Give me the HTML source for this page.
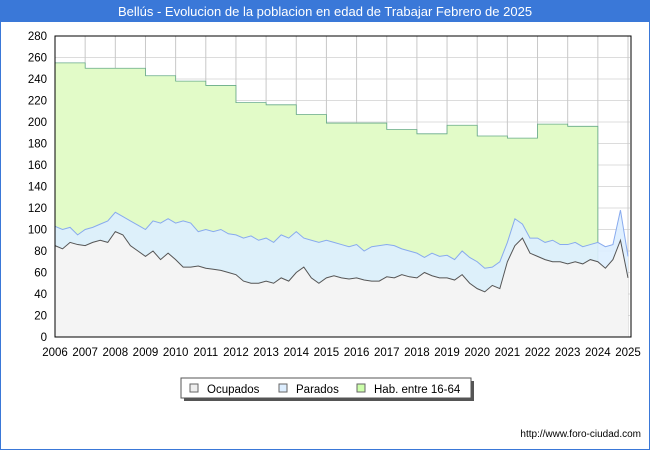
<!DOCTYPE html>
<html><head><meta charset="utf-8"><style>
body{margin:0;background:#fff;font-family:"Liberation Sans","DejaVu Sans",sans-serif}
#wrap{position:relative;width:648px;height:448px;border:1px solid #3a78d8;overflow:hidden}
</style></head><body>
<div id="wrap">
<svg id="c" width="650" height="450" style="position:absolute;left:-1px;top:-1px"></svg>
</div>
<script>
const years=[2006,2007,2008,2009,2010,2011,2012,2013,2014,2015,2016,2017,2018,2019,2020,2021,2022,2023,2024,2025];
const yTicks=[0,20,40,60,80,100,120,140,160,180,200,220,240,260,280];
const habByYear=[255,250,250,243,238,234,218,216,207,199,199,193,189,197,187,185,198,196];
const ocupados=[85,82,88,86,85,88,90,88,98,95,85,80,75,80,72,78,72,65,65,66,64,63,62,60,58,52,50,50,52,50,55,52,60,65,55,50,55,57,55,54,55,53,52,52,56,55,58,56,55,60,57,55,55,53,58,50,45,42,48,45,70,85,92,78,75,72,70,70,68,70,68,72,70,64,72,90,55];
const parados=[18,18,14,9,15,14,15,20,18,17,23,24,25,28,34,32,34,43,41,32,36,35,38,36,37,40,44,40,40,38,40,40,38,27,35,38,35,31,31,30,31,27,32,33,30,30,24,24,23,14,21,20,21,19,22,24,25,22,17,25,18,25,13,14,17,16,20,16,18,18,16,14,18,20,14,28,20];
const NS="http://www.w3.org/2000/svg";
const svg=document.getElementById('c');
const X0=55,X1=628,Y0=337,Y1=36;
const xs=t=>X0+(t-2006)*(X1-X0)/19;
const ys=v=>Y0-v*(Y0-Y1)/280;
function mk(tag,attrs){const el=document.createElementNS(NS,tag);for(const k in attrs)el.setAttribute(k,attrs[k]);svg.appendChild(el);return el;}
let e=mk('rect',{x:0,y:0,width:650,height:22,fill:'#3a78d8'});


e=mk('text',{x:325,y:16,'text-anchor':'middle','font-size':13,fill:'#fff'});
e.textContent='Bellús - Evolucion de la poblacion en edad de Trabajar Febrero de 2025';


yTicks.forEach(v=>{
 const g=mk('line',{x1:X0,x2:X1+2,y1:ys(v),y2:ys(v),stroke:'#dcdcdc','stroke-width':1});
 
 
 const t=mk('text',{x:X0-8,y:ys(v)+4,'text-anchor':'end','font-size':11.5,fill:'#000'});
 t.textContent=v;
 
 
});
years.forEach(y=>{
 const g=mk('line',{x1:xs(y),x2:xs(y),y1:Y1,y2:Y0,stroke:'#c8c8c8','stroke-width':1});
 
 
 const t=mk('text',{x:xs(y),y:356,'text-anchor':'middle','font-size':11.5,fill:'#000'});
 t.textContent=y;
 
 
});
let d='M'+xs(2006)+','+Y0;
habByYear.forEach((v,i)=>{d+=' L'+xs(2006+i)+','+ys(v)+' L'+xs(2007+i)+','+ys(v);});
d+=' L'+xs(2024)+','+ys(160)+' L'+xs(2024)+','+ys(112)+' L'+xs(2024)+','+Y0+' Z';
e=mk('path',{d:d,fill:'#e2fbc8',stroke:'#66aa88','stroke-width':0.8});


const tx=i=>xs(2006+i/4);
const stackTop=ocupados.map((o,i)=>o+parados[i]);
let pd='M'+tx(0)+','+Y0;stackTop.forEach((v,i)=>pd+=' L'+tx(i)+','+ys(v));pd+=' L'+tx(stackTop.length-1)+','+Y0+' Z';
e=mk('path',{d:pd,fill:'#ddeeff','fill-opacity':0.9,stroke:'none'});


let pl='';stackTop.forEach((v,i)=>pl+=(i?' L':'M')+tx(i)+','+ys(v));
e=mk('path',{d:pl,fill:'none',stroke:'#88aaee','stroke-width':1});


let od='M'+tx(0)+','+Y0;ocupados.forEach((v,i)=>od+=' L'+tx(i)+','+ys(v));od+=' L'+tx(ocupados.length-1)+','+Y0+' Z';
e=mk('path',{d:od,fill:'#f4f4f4',stroke:'none'});


let ol='';ocupados.forEach((v,i)=>ol+=(i?' L':'M')+tx(i)+','+ys(v));
e=mk('path',{d:ol,fill:'none',stroke:'#555','stroke-width':1});


e=mk('rect',{x:X0,y:Y1,width:X1-X0+3,height:Y0-Y1,fill:'none',stroke:'#000','stroke-width':1});


e=mk('rect',{x:184,y:381,width:290,height:20,fill:'#555'});


e=mk('rect',{x:181,y:378,width:290,height:20,fill:'#fff',stroke:'#555'});


[['Ocupados','#eeeeee',190],['Parados','#ddeeff',279],['Hab. entre 16-64','#ccffaa',357]].forEach(l=>{
 const s=mk('rect',{x:l[2],y:384,width:8,height:8,fill:l[1],stroke:'#666'});
 
 
 const t=mk('text',{x:l[2]+17,y:393,'font-size':11.5,fill:'#000'});
 t.textContent=l[0];
 
 
});
e=mk('text',{x:641,y:437,'text-anchor':'end','font-size':10,fill:'#000'});
e.textContent='http://www.foro-ciudad.com';


</script>
</body></html>
